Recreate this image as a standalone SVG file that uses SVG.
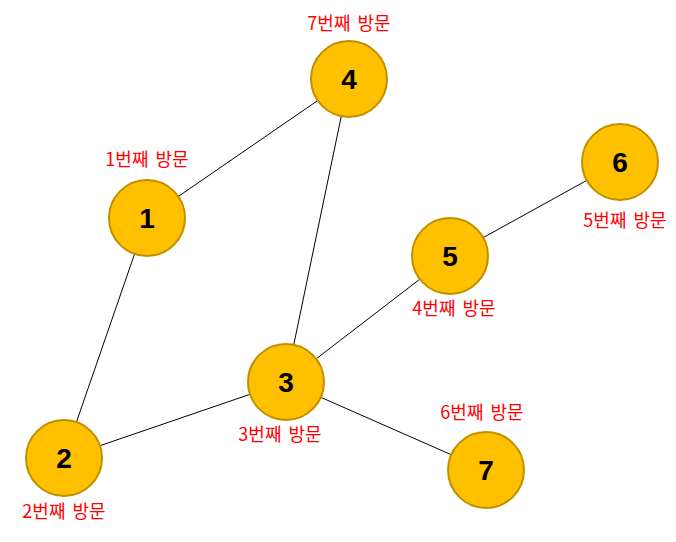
<svg xmlns="http://www.w3.org/2000/svg" width="676" height="542" viewBox="0 0 676 542">
<style>
.n{fill:#FFC000;stroke:#BF9000;stroke-width:2}
.t{font-family:"Liberation Sans",Arial,sans-serif;font-weight:bold;font-size:28px;fill:#000;text-anchor:middle}
.l{font-family:"Noto Sans CJK KR","Liberation Sans",sans-serif;font-size:18px;fill:#FF0000;text-anchor:middle;word-spacing:3px}
.e{stroke:#000;stroke-width:1;fill:none}
</style>
<rect width="676" height="542" fill="#fff"/>
<g id="connectors">
<line class="e" x1="147" y1="218" x2="349" y2="79"/>
<line class="e" x1="349" y1="79" x2="286" y2="382"/>
<line class="e" x1="147" y1="218" x2="64" y2="458"/>
<line class="e" x1="64" y1="458" x2="286" y2="382"/>
<line class="e" x1="286" y1="382" x2="450" y2="256"/>
<line class="e" x1="450" y1="256" x2="620" y2="162"/>
<line class="e" x1="286" y1="382" x2="486" y2="470"/>
</g>
<g id="node4"><circle class="n" cx="349" cy="79" r="38"/><text class="t" x="349" y="89">4</text><text class="l" x="349" y="30">7번째 방문</text></g>
<g id="node1"><circle class="n" cx="147" cy="218" r="38"/><text class="t" x="147" y="228">1</text><text class="l" x="147" y="166">1번째 방문</text></g>
<g id="node6"><circle class="n" cx="620" cy="162" r="38"/><text class="t" x="620" y="172">6</text><text class="l" x="625" y="227">5번째 방문</text></g>
<g id="node5"><circle class="n" cx="450" cy="256" r="38"/><text class="t" x="450" y="266">5</text><text class="l" x="454" y="315">4번째 방문</text></g>
<g id="node3"><circle class="n" cx="286" cy="382" r="38"/><text class="t" x="286" y="392">3</text><text class="l" x="280" y="441">3번째 방문</text></g>
<g id="node2"><circle class="n" cx="64" cy="458" r="38"/><text class="t" x="64" y="468">2</text><text class="l" x="64" y="518">2번째 방문</text></g>
<g id="node7"><circle class="n" cx="486" cy="470" r="38"/><text class="t" x="486" y="480">7</text><text class="l" x="482" y="419">6번째 방문</text></g>
</svg>
